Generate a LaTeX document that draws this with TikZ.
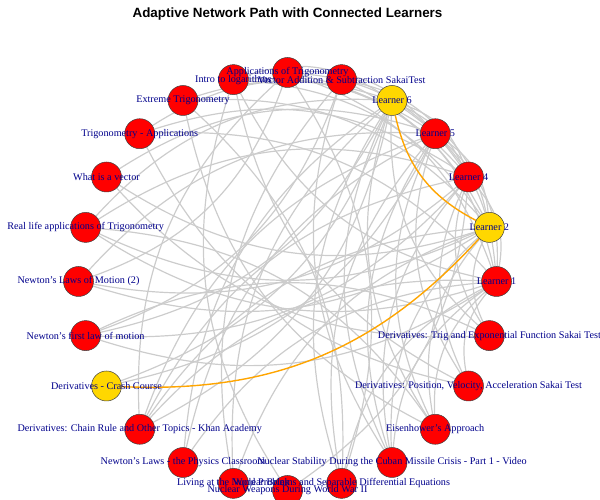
\documentclass[tikz,border=0pt]{standalone}
\usepackage{fontspec}
\setmainfont{Liberation Serif}
\newfontfamily\titlefont{Liberation Sans}
\pgfdeclarelayer{edges}
\pgfsetlayers{edges,main}
\definecolor{edgegray}{HTML}{CCCCCC}
\definecolor{labelblue}{HTML}{00008B}
\definecolor{vred}{HTML}{FF0000}
\definecolor{vgold}{HTML}{FFD700}
\definecolor{pathorange}{HTML}{FFA500}
\begin{document}
\begin{tikzpicture}[x=1pt,y=1pt,
  vert/.style={circle, draw=black!75, line width=0.5pt, minimum size=30pt, inner sep=0pt},
  vlabel/.style={text=labelblue, font=\fontsize{10.2}{12}\selectfont, inner sep=0pt},
  gedge/.style={draw=edgegray, line width=1.2pt, bend right=25},
  pedge/.style={draw=pathorange, line width=1.4pt},
  ttl/.style={font=\titlefont\bfseries\fontsize{13.4}{16}\selectfont, inner sep=0pt}
]
\useasboundingbox (0,0) rectangle (600,500);

\node[ttl] (title) at (287.5,485.5) {Adaptive Network Path with Connected Learners};

% vertices on a circle, 15 degrees apart, starting at the east
\foreach \i/\c in {0/vred,1/vgold,2/vred,3/vred,4/vgold,5/vred,6/vred,7/vred,
                   8/vred,9/vred,10/vred,11/vred,12/vred,13/vred,14/vgold,15/vred,
                   16/vred,17/vred,18/vred,19/vred,20/vred,21/vred,22/vred,23/vred}
  \node[vert, fill=\c] (v\i) at ({287.5+209*cos(15*\i)},{218.5+209*sin(15*\i)}) {};

% edges behind the vertices (each one curves to the right of its direction)
\begin{pgfonlayer}{edges}
\foreach \a/\b in {
  0/5,0/6,7/0,0/9,11/0,13/0,0/15,0/16,0/19,0/20,0/22,0/21,
  1/6,1/8,10/1,12/1,1/15,1/17,1/20,1/21,1/23,1/7,11/1,
  2/5,2/7,2/9,2/11,13/2,2/15,18/2,2/20,2/22,2/23,2/6,12/2,
  3/6,3/8,3/10,3/12,14/3,3/15,3/16,3/19,3/20,3/21,3/22,
  4/7,4/9,4/11,13/4,15/4,4/17,4/19,4/20,4/21,4/23,4/16,14/4,
  0/2,1/3,2/4,0/3,1/4,0/4,
  5/20,6/15,7/22,13/5,12/6,
  7/18,19/6,5/17,8/21,10/23,9/22,
  19/8,21/11,23/13}
  \draw[gedge] (v\a) to (v\b);
\draw[pedge] (v4) to[bend right=25] (v1);
\draw[pedge] (v1) to[bend left=25] (v14);
\end{pgfonlayer}

% labels over everything
\foreach \i/\t in {
  0/{Learner 1},
  1/{Learner 2},
  2/{Learner 4},
  3/{Learner 5},
  4/{Learner 6},
  5/{Vector Addition \& Subtraction SakaiTest},
  6/{Applications of Trigonometry},
  7/{Intro to logarithms},
  8/{Extreme Trigonometry},
  9/{Trigonometry - Applications},
  10/{What is a vector},
  11/{Real life applications of Trigonometry},
  12/{Newton's Laws of Motion (2)},
  13/{Newton's first law of motion},
  14/{Derivatives - Crash Course},
  15/{Derivatives: Chain Rule and Other Topics - Khan Academy},
  16/{Newton's Laws - the Physics Classroom},
  17/{Living at the Nuclear Brink},
  18/{Nuclear Weapons During World War II},
  19/{Word Problems and Separable Differential Equations},
  20/{Nuclear Stability During the Cuban Missile Crisis - Part 1 - Video},
  21/{Eisenhower's Approach},
  22/{Derivatives: Position, Velocity, Acceleration Sakai Test},
  23/{Derivatives: Trig and Exponential Function Sakai Test}}
  \node[vlabel] (t\i) at (v\i) {\t};
\end{tikzpicture}
\end{document}
